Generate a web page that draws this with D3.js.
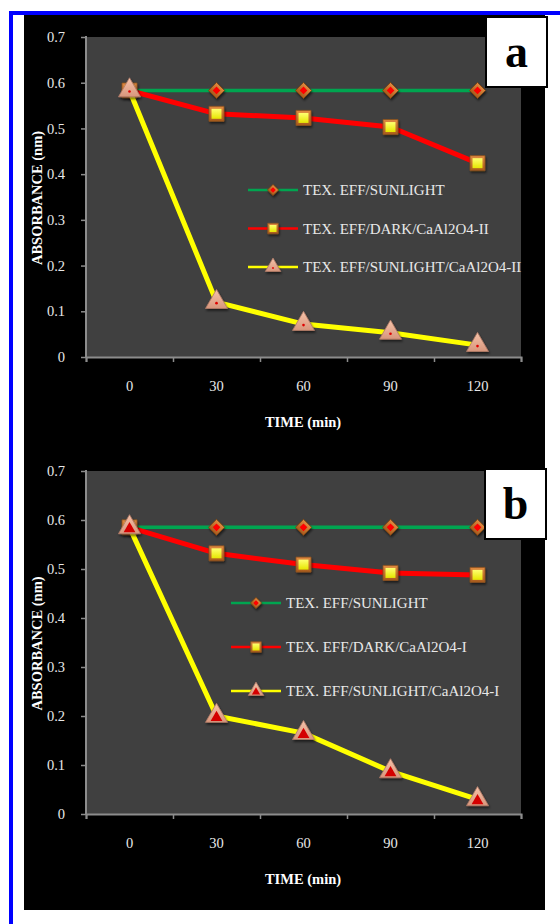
<!DOCTYPE html>
<html>
<head>
<meta charset="utf-8">
<script src="https://cdn.jsdelivr.net/npm/d3@7"></script>
<style>
  body { margin: 0; background: #fff; }
  svg { display: block; }
</style>
</head>
<body>
<div id="chart"></div>
<script>
// categories / ticks
const timeLabels = ['0', '30', '60', '90', '120'];
const yTicks = [0, 0.1, 0.2, 0.3, 0.4, 0.5, 0.6, 0.7];

// panel a
const sunlightA = [0.583, 0.583, 0.583, 0.583, 0.583];
const darkA = [0.583, 0.532, 0.523, 0.503, 0.424];
const sunCatA = [0.583, 0.120, 0.072, 0.053, 0.026];
const legendA = ['TEX. EFF/SUNLIGHT', 'TEX. EFF/DARK/CaAl2O4-II', 'TEX. EFF/SUNLIGHT/CaAl2O4-II'];

// panel b
const sunlightB = [0.585, 0.585, 0.585, 0.585, 0.585];
const darkB = [0.585, 0.532, 0.509, 0.492, 0.488];
const sunCatB = [0.585, 0.200, 0.165, 0.087, 0.030];
const legendB = ['TEX. EFF/SUNLIGHT', 'TEX. EFF/DARK/CaAl2O4-I', 'TEX. EFF/SUNLIGHT/CaAl2O4-I'];

const W = 560, H = 924;
const FONT = "'Liberation Serif', 'Times New Roman', serif";

const svg = d3.select('#chart').append('svg')
  .attr('width', W)
  .attr('height', H);

const defs = svg.append('defs');
const shadow = defs.append('filter').attr('id', 'shadow')
  .attr('x', '-50%').attr('y', '-50%').attr('width', '200%').attr('height', '200%');
shadow.append('feDropShadow')
  .attr('dx', 1).attr('dy', 2).attr('stdDeviation', 1)
  .attr('flood-color', '#000').attr('flood-opacity', 0.55);

function grad(id, c0, c1) {
  const g = defs.append('linearGradient').attr('id', id)
    .attr('x1', 0).attr('y1', 0).attr('x2', 0).attr('y2', 1);
  g.append('stop').attr('offset', '0%').attr('stop-color', c0);
  g.append('stop').attr('offset', '100%').attr('stop-color', c1);
}
grad('gBrown', '#e08a40', '#a85a1c');
grad('gYellow', '#ffff70', '#e6e600');
grad('gPeach', '#f6c3aa', '#d8967c');

// blue frame + black panel
svg.append('rect').attr('x', 9).attr('y', 11).attr('width', W - 9).attr('height', 4).attr('fill', '#0000ff');
svg.append('rect').attr('x', 9).attr('y', 11).attr('width', 4).attr('height', H - 11).attr('fill', '#0000ff');
svg.append('rect').attr('x', 24).attr('y', 15).attr('width', 521).attr('height', 895).attr('fill', '#000');

// markers
function drawMarker(g, type, s) {
  if (type === 'diamond') {
    g.append('path').attr('d', d3.symbol(d3.symbolSquare, 128 * s * s)())
      .attr('transform', 'rotate(45)')
      .attr('fill', 'url(#gBrown)').attr('stroke', '#7a4212').attr('stroke-width', 0.8);
    g.append('path').attr('d', d3.symbol(d3.symbolSquare, 30 * s * s)())
      .attr('transform', 'rotate(45)')
      .attr('fill', '#ff0000');
  } else if (type === 'square') {
    g.append('path').attr('d', d3.symbol(d3.symbolSquare, 225 * s * s)())
      .attr('fill', 'url(#gBrown)').attr('stroke', '#8a5020').attr('stroke-width', 0.8);
    g.append('path').attr('d', d3.symbol(d3.symbolSquare, 100 * s * s)())
      .attr('fill', 'url(#gYellow)');
  } else {
    g.append('path').attr('d', d3.symbol(d3.symbolTriangle, 210 * s * s)())
      .attr('fill', 'url(#gPeach)').attr('stroke', '#b07a66').attr('stroke-width', 0.8);
    if (type === 'triDot') {
      g.append('circle').attr('cy', 1).attr('r', 1.3 * s).attr('fill', '#e00000');
    } else {
      g.append('path').attr('d', d3.symbol(d3.symbolTriangle, 60 * s * s)())
        .attr('transform', `translate(0,${1.5 * s})`)
        .attr('fill', '#d40000');
    }
  }
}

function drawPanel(cfg) {
  const x = d3.scaleBand().domain(timeLabels).range([86, 521]);
  const xEdge = d3.scaleLinear().domain([0, timeLabels.length]).range([86, 521]);
  const y = d3.scaleLinear().domain([0, 0.7]).range([cfg.bottom, cfg.top]);
  const cx = (d, i) => x(timeLabels[i]) + x.bandwidth() / 2;

  const g = svg.append('g');

  g.append('rect')
    .attr('x', 86).attr('y', cfg.top)
    .attr('width', 435).attr('height', cfg.bottom - cfg.top)
    .attr('fill', '#404040');

  // y axis
  const yAxis = g.append('g')
    .attr('transform', 'translate(86,0)')
    .call(d3.axisLeft(y).tickValues(yTicks).tickSize(5).tickPadding(16)
      .tickFormat(d => d === 0 ? '0' : d3.format('.1f')(d)));

  // x axis: labels centered in bands, ticks on band edges
  const xAxis = g.append('g')
    .attr('transform', `translate(0,${cfg.bottom})`)
    .call(d3.axisBottom(x).tickSize(0).tickPadding(24));
  const xTicks = g.append('g')
    .attr('transform', `translate(0,${cfg.bottom})`)
    .call(d3.axisBottom(xEdge).ticks(timeLabels.length).tickSize(5).tickFormat(''));

  [yAxis, xAxis, xTicks].forEach(a => {
    a.select('.domain').attr('stroke', '#8c8c8c').attr('stroke-width', 2);
    a.selectAll('.tick line').attr('stroke', '#8c8c8c').attr('stroke-width', 1.5);
    a.selectAll('.tick text')
      .attr('fill', '#e8e8e8')
      .style('font-family', FONT)
      .style('font-size', '14.5px');
  });
  xAxis.select('.domain').remove();
  yAxis.select('.domain').attr('d', `M0,${cfg.bottom}V${cfg.top - 1}`);

  // axis titles
  g.append('text')
    .attr('x', 303).attr('y', cfg.xTitleY)
    .attr('text-anchor', 'middle').attr('dy', '0.35em')
    .attr('fill', '#fff')
    .style('font-family', FONT).style('font-size', '14.5px').style('font-weight', 'bold')
    .text('TIME (min)');
  g.append('text')
    .attr('transform', `translate(37,${(cfg.top + cfg.bottom) / 2 + 1}) rotate(-90)`)
    .attr('text-anchor', 'middle').attr('dy', '0.35em')
    .attr('fill', '#fff')
    .style('font-family', FONT).style('font-size', '14.5px').style('font-weight', 'bold')
    .text('ABSORBANCE (nm)');

  const series = [
    { values: cfg.sun, color: '#00a550', width: 3.5, marker: 'diamond' },
    { values: cfg.dark, color: '#ff0000', width: 5, marker: 'square' },
    { values: cfg.cat, color: '#ffff00', width: 5, marker: cfg.tri }
  ];

  const line = d3.line().x(cx).y(d => y(d));

  series.forEach(s => {
    g.append('path')
      .datum(s.values)
      .attr('d', line)
      .attr('fill', 'none')
      .attr('stroke', s.color)
      .attr('stroke-width', s.width)
      .attr('stroke-linejoin', 'round');
    g.selectAll(null)
      .data(s.values)
      .enter().append('g')
      .attr('transform', (d, i) => `translate(${cx(d, i)},${y(d)})`)
      .attr('filter', 'url(#shadow)')
      .each(function() { drawMarker(d3.select(this), s.marker, 1); });
  });

  // legend
  const lg = g.append('g');
  series.forEach((s, i) => {
    const ly = cfg.legY + i * cfg.legDy;
    lg.append('line')
      .attr('x1', cfg.legX).attr('x2', cfg.legX + 50)
      .attr('y1', ly).attr('y2', ly)
      .attr('stroke', s.color).attr('stroke-width', 2.5);
    const m = lg.append('g')
      .attr('transform', `translate(${cfg.legX + 25},${ly})`)
      .attr('filter', 'url(#shadow)');
    drawMarker(m, s.marker, 0.7);
    lg.append('text')
      .attr('x', cfg.legX + 55).attr('y', ly)
      .attr('dy', '0.35em')
      .attr('fill', '#e8e8e8')
      .style('font-family', FONT).style('font-size', '15px')
      .text(cfg.legend[i]);
  });

  // panel tag
  g.append('rect')
    .attr('x', cfg.box[0]).attr('y', cfg.box[1])
    .attr('width', 61).attr('height', 70)
    .attr('fill', '#fff').attr('stroke', '#000').attr('stroke-width', 2);
  g.append('text')
    .attr('x', cfg.box[0] + 30.5).attr('y', cfg.box[1] + 35)
    .attr('text-anchor', 'middle').attr('dy', '0.33em')
    .attr('fill', '#000')
    .style('font-family', FONT).style('font-size', '46px').style('font-weight', 'bold')
    .text(cfg.tag);
}

drawPanel({
  top: 37, bottom: 357, xTitleY: 422,
  sun: sunlightA, dark: darkA, cat: sunCatA, tri: 'triDot',
  legend: legendA, legX: 248, legY: 190, legDy: 38.5,
  tag: 'a', box: [486, 17]
});

drawPanel({
  top: 471, bottom: 814, xTitleY: 879,
  sun: sunlightB, dark: darkB, cat: sunCatB, tri: 'triFill',
  legend: legendB, legX: 231, legY: 603, legDy: 44,
  tag: 'b', box: [485, 469]
});
</script>
</body>
</html>
